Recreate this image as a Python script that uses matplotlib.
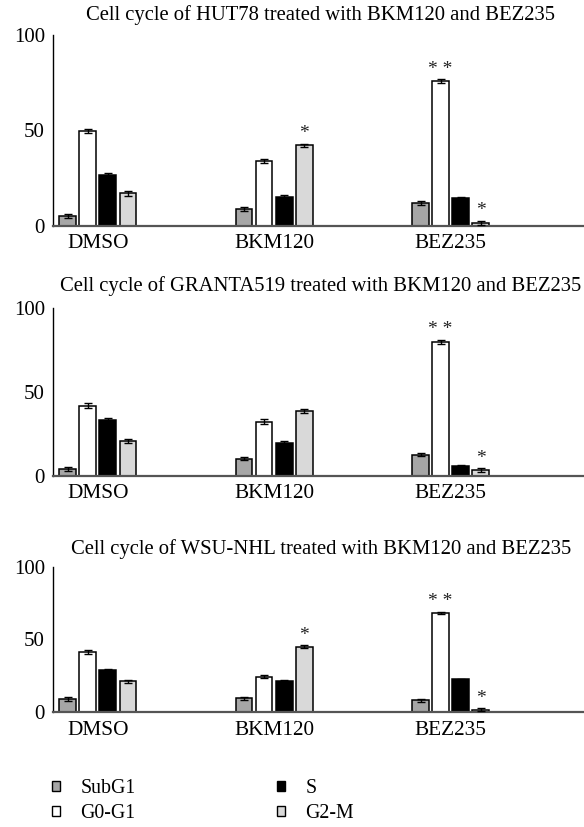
import matplotlib
matplotlib.use("Agg")
import matplotlib.pyplot as plt
import numpy as np
from matplotlib.patches import Patch

plt.rcParams['font.family'] = ['Liberation Serif', 'DejaVu Serif']

treatments = ["DMSO", "BKM120", "BEZ235"]
phases = ["SubG1", "G0-G1", "S", "G2-M"]
phase_colors = ["#a6a6a6", "#ffffff", "#000000", "#d9d9d9"]

titles = [
    "Cell cycle of HUT78 treated with BKM120 and BEZ235",
    "Cell cycle of GRANTA519 treated with BKM120 and BEZ235",
    "Cell cycle of WSU-NHL treated with BKM120 and BEZ235",
]

# percentage of cells per phase; rows = treatments, columns = phases
hut78 = [[5.0, 49.8, 26.8, 17.0],
         [8.6, 33.9, 15.2, 42.1],
         [12.1, 75.9, 14.4, 1.4]]
hut78_err = [[1.2, 1.1, 0.8, 1.2],
             [1.1, 1.2, 1.1, 0.9],
             [1.1, 1.0, 0.8, 1.2]]

granta519 = [[4.0, 41.9, 33.5, 20.7],
             [10.1, 32.2, 19.7, 38.6],
             [12.6, 80.1, 5.8, 3.2]]
granta519_err = [[1.0, 1.3, 0.9, 1.1],
                 [0.9, 1.4, 1.1, 1.0],
                 [0.7, 1.2, 0.7, 1.2]]

wsu_nhl = [[9.1, 41.4, 28.8, 21.3],
           [9.5, 24.4, 21.2, 45.1],
           [8.4, 68.4, 22.6, 1.8]]
wsu_nhl_err = [[1.2, 1.1, 0.6, 1.0],
               [1.2, 0.9, 0.8, 1.0],
               [1.0, 0.7, 0.6, 1.0]]

# significance marks: (treatment index, phase index, label)
hut78_sig = [(1, 3, "*"), (2, 1, "* *"), (2, 3, "*")]
granta519_sig = [(2, 1, "* *"), (2, 3, "*")]
wsu_nhl_sig = [(1, 3, "*"), (2, 1, "* *"), (2, 3, "*")]

panels = [
    (titles[0], hut78, hut78_err, hut78_sig),
    (titles[1], granta519, granta519_err, granta519_sig),
    (titles[2], wsu_nhl, wsu_nhl_err, wsu_nhl_sig),
]

fig = plt.figure(figsize=(5.84, 8.27), dpi=100)
W, H = 584, 827
left_px, right_px = 53.3, 583
axes_px = [(35, 225.7), (308.3, 475.7), (566.7, 712.3)]
title_y_px = [15, 286, 549]

bar_w = 0.094
offsets = np.array([-1.5, -0.5, 0.5, 1.5]) * 0.1135
x = np.arange(len(treatments))

for (title, vals, errs, sigs), (top, bot), ty in zip(panels, axes_px, title_y_px):
    ax = fig.add_axes([left_px / W, 1 - bot / H, (right_px - left_px) / W, (bot - top) / H])
    vals = np.array(vals)
    errs = np.array(errs)
    for j in range(len(phases)):
        ax.bar(x + offsets[j], vals[:, j], width=bar_w, color=phase_colors[j],
               edgecolor="black", linewidth=1.1, zorder=2)
        ax.errorbar(x + offsets[j], vals[:, j], yerr=errs[:, j], fmt="none",
                    ecolor="black", elinewidth=1.0, capsize=3.0, capthick=1.0, zorder=3)
    for ti, pj, lab in sigs:
        ax.annotate(lab, (x[ti] + offsets[pj], vals[ti, pj] + errs[ti, pj]),
                    xytext=(0, 1), textcoords="offset points", ha="center", va="bottom",
                    fontsize=14, color="#222222")
    ax.set_xlim(-0.252, 2.75)
    ax.set_ylim(0, 100)
    ax.set_yticks([0, 50, 100])
    ax.set_xticks(x)
    ax.set_xticklabels(treatments)
    ax.tick_params(axis="both", length=0)
    ax.tick_params(axis="x", pad=6, labelsize=15.3)
    ax.tick_params(axis="y", pad=6, labelsize=15)
    for s in ["top", "right"]:
        ax.spines[s].set_visible(False)
    ax.spines["left"].set_color("black")
    ax.spines["left"].set_linewidth(1.0)
    ax.spines["bottom"].set_color("#555555")
    ax.spines["bottom"].set_linewidth(1.6)
    fig.text(321 / W, 1 - ty / H, title, ha="center", va="center", fontsize=14.85)

handles = [Patch(facecolor=c, edgecolor="black", linewidth=1.0) for c in phase_colors]
legend_cols = [([0, 1], 52), ([2, 3], 277)]
for idx, xpx in legend_cols:
    fig.legend([handles[i] for i in idx], [phases[i] for i in idx],
               loc="upper left", bbox_to_anchor=(xpx / W, 1 - 779 / H),
               frameon=False, fontsize=14.3, handlelength=0.38, handleheight=0.38,
               labelspacing=0.3, handletextpad=1.05, borderpad=0, borderaxespad=0)

fig.savefig("out.png", dpi=100)
